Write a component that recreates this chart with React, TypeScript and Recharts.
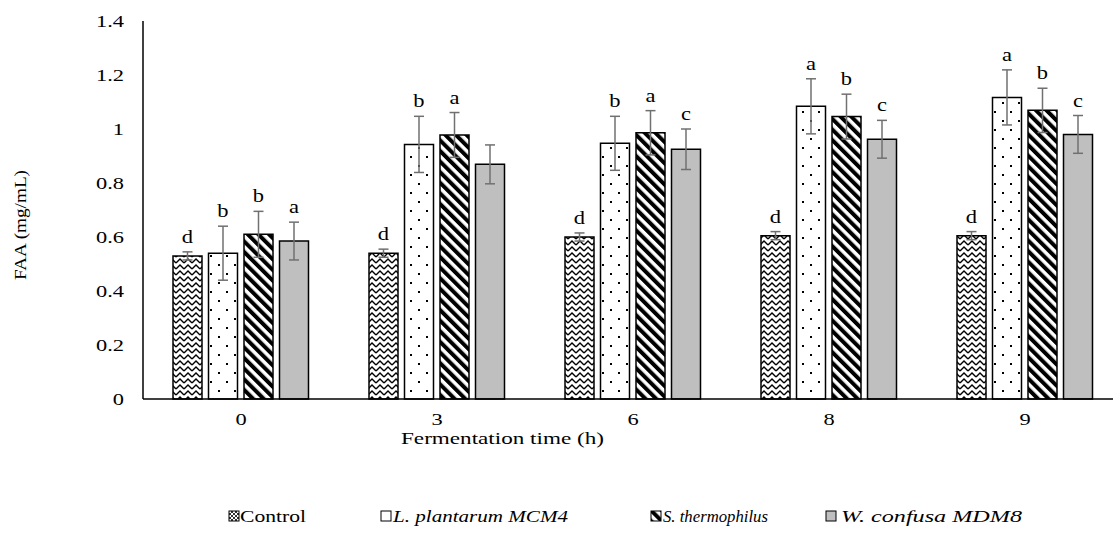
import React from 'react';
import { BarChart, Bar, XAxis, YAxis, ErrorBar, LabelList } from 'recharts';

// fermentation time (h)
const times = ['0', '3', '6', '8', '9'];

// FAA (mg/mL), means and SD
const control = [0.53, 0.54, 0.6, 0.605, 0.605];
const controlErr = [0.015, 0.015, 0.015, 0.015, 0.015];
const plantarum = [0.54, 0.943, 0.947, 1.084, 1.117];
const plantarumErr = [0.1, 0.104, 0.1, 0.102, 0.102];
const thermo = [0.61, 0.978, 0.986, 1.046, 1.069];
const thermoErr = [0.085, 0.083, 0.082, 0.083, 0.082];
const confusa = [0.585, 0.869, 0.925, 0.962, 0.98];
const confusaErr = [0.07, 0.072, 0.075, 0.07, 0.07];

// significance letters
const controlTags = ['d', 'd', 'd', 'd', 'd'];
const plantarumTags = ['b', 'b', 'b', 'a', 'a'];
const thermoTags = ['b', 'a', 'a', 'b', 'b'];
const confusaTags = ['a', '', 'c', 'c', 'c'];

const yTicks = [0, 0.2, 0.4, 0.6, 0.8, 1, 1.2, 1.4];

const data = times.map((t, i) => ({
  time: t,
  control: control[i],
  controlErr: controlErr[i],
  controlTag: controlTags[i],
  plantarum: plantarum[i],
  plantarumErr: plantarumErr[i],
  plantarumTag: plantarumTags[i],
  thermo: thermo[i],
  thermoErr: thermoErr[i],
  thermoTag: thermoTags[i],
  confusa: confusa[i],
  confusaErr: confusaErr[i],
  confusaTag: confusaTags[i],
}));

const FONT = '"Liberation Serif", "Times New Roman", serif';
const ERR = '#707070';

const YTick = ({ x, y, payload }: any) => (
  <text
    transform={`translate(${x - 11}, ${y + 6}) scale(1.32, 1)`}
    textAnchor="end"
    fontFamily={FONT}
    fontSize={17}
    fill="#000"
  >
    {payload.value}
  </text>
);

const XTick = ({ x, y, payload }: any) => (
  <text
    transform={`translate(${x}, ${y + 18}) scale(1.32, 1)`}
    textAnchor="middle"
    fontFamily={FONT}
    fontSize={17}
    fill="#000"
  >
    {payload.value}
  </text>
);

// letter sits above the top of the error bar
const tagRenderer = (vals: number[], errs: number[]) => (props: any) => {
  const { x, y, width, height, value, index } = props;
  if (!value) return null;
  const perUnit = height / vals[index];
  const top = y - errs[index] * perUnit;
  return (
    <text
      transform={`translate(${x + width / 2}, ${top - 9}) scale(1.25, 1)`}
      textAnchor="middle"
      fontFamily={FONT}
      fontSize={18}
      fill="#000"
    >
      {value}
    </text>
  );
};

const Patterns = ({ p }: { p: string }) => (
  <defs>
    <pattern id={`${p}zig`} width="8" height="6" patternUnits="userSpaceOnUse">
      <rect width="8" height="6" fill="#fff" />
      <path d="M0 5 L4 1 L8 5" fill="none" stroke="#000" strokeWidth="1.4" />
    </pattern>
    <pattern id={`${p}dots`} width="16" height="18" patternUnits="userSpaceOnUse">
      <rect width="16" height="18" fill="#fff" />
      <rect x="2" y="3" width="2" height="2" fill="#000" />
      <rect x="10" y="12" width="2" height="2" fill="#000" />
    </pattern>
    <pattern
      id={`${p}diag`}
      width="7.5"
      height="7.5"
      patternUnits="userSpaceOnUse"
      patternTransform="rotate(-45)"
    >
      <rect width="7.5" height="7.5" fill="#fff" />
      <rect width="4" height="7.5" fill="#000" />
    </pattern>
    <pattern id={`${p}hatch`} width="4" height="4" patternUnits="userSpaceOnUse">
      <rect width="4" height="4" fill="#fff" />
      <path d="M0 4 L4 0 M0 0 L4 4" stroke="#000" strokeWidth="0.8" />
    </pattern>
  </defs>
);

const legendItems = [
  { name: 'Control', fill: 'url(#lghatch)', icon: 229, text: 240, len: 66, italic: false },
  { name: 'L. plantarum MCM4', fill: 'url(#lgdots)', icon: 381, text: 393, len: 175, italic: true },
  { name: 'S. thermophilus', fill: 'url(#lgdiag)', icon: 651, text: 663, len: 105, italic: true },
  { name: 'W. confusa MDM8', fill: '#bfbfbf', icon: 826, text: 841, len: 181, italic: true },
];

const App = () => {
  return (
    <div
      style={{
        position: 'absolute',
        left: 0,
        top: 0,
        width: 1113,
        height: 535,
        overflow: 'hidden',
        background: '#fff',
      }}
    >
      <BarChart
        width={1130}
        height={535}
        data={data}
        margin={{ top: 21, right: 7, left: 0, bottom: 0 }}
        barSize={29}
        barGap={6.5}
      >
        <Patterns p="ch" />
        <XAxis
          dataKey="time"
          height={136}
          axisLine={{ stroke: '#000', strokeWidth: 1.5 }}
          tickLine={false}
          tick={<XTick />}
          interval={0}
        />
        <XAxis
          xAxisId="top"
          dataKey="time"
          orientation="top"
          height={0}
          axisLine={{ stroke: '#000', strokeWidth: 1.5 }}
          tickLine={false}
          tick={false}
        />
        <YAxis
          width={143}
          domain={[0, 1.4]}
          ticks={yTicks}
          interval={0}
          axisLine={{ stroke: '#000', strokeWidth: 1.5 }}
          tickLine={false}
          tick={<YTick />}
        />
        <Bar dataKey="control" fill="url(#chzig)" stroke="#000" strokeWidth={1.5} isAnimationActive={false}>
          <ErrorBar dataKey="controlErr" width={5} stroke={ERR} strokeWidth={1.5} />
          <LabelList dataKey="controlTag" content={tagRenderer(control, controlErr)} />
        </Bar>
        <Bar dataKey="plantarum" fill="url(#chdots)" stroke="#000" strokeWidth={1.5} isAnimationActive={false}>
          <ErrorBar dataKey="plantarumErr" width={5} stroke={ERR} strokeWidth={1.5} />
          <LabelList dataKey="plantarumTag" content={tagRenderer(plantarum, plantarumErr)} />
        </Bar>
        <Bar dataKey="thermo" fill="url(#chdiag)" stroke="#000" strokeWidth={1.5} isAnimationActive={false}>
          <ErrorBar dataKey="thermoErr" width={5} stroke={ERR} strokeWidth={1.5} />
          <LabelList dataKey="thermoTag" content={tagRenderer(thermo, thermoErr)} />
        </Bar>
        <Bar dataKey="confusa" fill="#bfbfbf" stroke="#000" strokeWidth={1.5} isAnimationActive={false}>
          <ErrorBar dataKey="confusaErr" width={5} stroke={ERR} strokeWidth={1.5} />
          <LabelList dataKey="confusaTag" content={tagRenderer(confusa, confusaErr)} />
        </Bar>
      </BarChart>

      <svg
        width={1113}
        height={535}
        style={{ position: 'absolute', left: 0, top: 0, pointerEvents: 'none' }}
      >
        <Patterns p="lg" />
        <text
          transform="translate(26, 225) rotate(-90)"
          textAnchor="middle"
          fontFamily={FONT}
          fontSize={17}
          textLength={110}
          lengthAdjust="spacingAndGlyphs"
        >
          FAA (mg/mL)
        </text>
        <text
          x={401}
          y={444}
          fontFamily={FONT}
          fontSize={17}
          textLength={203}
          lengthAdjust="spacingAndGlyphs"
        >
          Fermentation time (h)
        </text>
        {legendItems.map((it) => (
          <g key={it.name}>
            <rect x={it.icon} y={511} width={10} height={10} fill={it.fill} stroke="#000" strokeWidth={1} />
            <text
              x={it.text}
              y={522}
              fontFamily={FONT}
              fontSize={17}
              fontStyle={it.italic ? 'italic' : 'normal'}
              textLength={it.len}
              lengthAdjust="spacingAndGlyphs"
            >
              {it.name}
            </text>
          </g>
        ))}
      </svg>
    </div>
  );
};

export default App;
